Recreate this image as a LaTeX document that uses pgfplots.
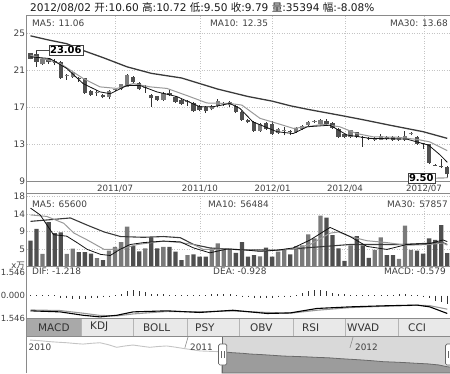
\documentclass[border=0pt]{standalone}
\usepackage{fontspec}
\setmainfont{DejaVu Sans}
\newfontfamily\cjk{Noto Sans CJK SC}
\usepackage{pgfplots}
\pgfplotsset{compat=1.18}
\usepackage{pgfplotstable}
\newcommand\fs[1]{\fontsize{#1}{#1}\selectfont}
\definecolor{axisgray}{HTML}{8A8A8A}
\definecolor{gridgray}{HTML}{C4C4C4}
\definecolor{textgray}{HTML}{404040}
\definecolor{bodydown}{HTML}{505050}
\definecolor{bodyup}{HTML}{7D7D7D}
\definecolor{wickc}{HTML}{303030}
\definecolor{voldown}{HTML}{4F4F4F}
\definecolor{volup}{HTML}{7A7A7A}
\definecolor{maA}{HTML}{111111}
\definecolor{maB}{HTML}{999999}
\definecolor{maC}{HTML}{3A3A3A}
\definecolor{tabbg}{HTML}{E9E9E9}
\definecolor{tabsel}{HTML}{A9A9A9}
\definecolor{tabline}{HTML}{B5B5B5}
\definecolor{navsel}{HTML}{D9D9D9}
\definecolor{navarea}{HTML}{9C9C9C}
\definecolor{navline}{HTML}{6A6A6A}
\definecolor{navlight}{HTML}{C4C4C4}

\pgfplotstableread{
i o h l c
2 21.7 22.4 21.6 22.3
6 20.45 20.6 20.0 20.55
7 20.3 20.9 20.2 20.85
11 18.55 18.9 18.3 18.65
13 18.1 18.9 17.9 18.8
14 18.85 19.1 18.75 19.0
15 19.0 19.6 18.9 19.5
16 19.25 20.6 19.2 20.5
19 19.15 19.4 18.6 19.25
22 17.8 18.7 17.7 18.6
26 17.6 17.8 17.2 17.75
30 16.8 17.3 16.7 17.2
31 17.2 17.9 17.1 17.7
32 17.35 17.6 17.2 17.45
33 17.25 17.7 17.1 17.6
38 14.5 15.3 14.4 15.2
41 14.3 14.8 14.2 14.7
42 14.45 14.9 14.0 14.55
44 14.35 14.9 14.3 14.8
45 14.7 15.1 14.6 15.0
46 15.1 15.6 15.0 15.5
47 15.45 15.7 15.3 15.55
48 15.2 15.8 15.1 15.7
53 13.8 14.6 13.7 14.55
57 13.55 13.8 13.4 13.65
58 13.55 14.1 13.5 13.95
61 13.45 13.9 13.4 13.8
62 13.45 14.5 13.4 13.95
63 14.15 14.35 14.0 14.25
}\candlesUp

\pgfplotstableread{
i o h l c
0 22.85 22.9 22.2 22.3
1 22.75 23.06 21.4 21.9
3 22.2 22.3 21.7 21.9
4 22.0 22.2 21.6 21.8
5 21.9 22.0 20.1 20.15
8 20.2 20.3 19.8 20.1
9 20.15 20.2 18.5 18.55
10 18.8 18.9 18.3 18.35
12 18.4 18.5 18.0 18.1
17 20.3 20.4 19.7 19.8
18 19.7 19.8 18.9 19.0
20 18.4 18.5 17.1 18.0
21 18.2 18.3 17.7 17.8
23 18.6 18.85 18.3 18.35
24 18.1 18.2 17.5 17.6
25 17.8 17.9 17.3 17.4
27 17.5 17.6 16.5 16.6
28 17.2 17.3 16.6 16.7
29 17.1 17.2 16.4 16.6
34 17.2 17.3 16.4 16.5
35 16.5 16.6 15.6 15.65
36 15.7 15.8 15.3 15.4
37 15.5 15.6 14.4 14.5
39 15.35 15.5 14.6 14.65
40 15.25 15.6 14.0 14.1
43 14.45 14.6 14.0 14.35
49 15.55 15.8 15.1 15.2
50 15.35 15.4 14.7 14.8
51 14.7 14.8 13.7 13.8
52 14.1 14.2 13.7 13.8
54 14.35 14.4 13.7 13.8
55 13.85 13.9 12.8 13.75
56 13.75 13.8 13.5 13.65
59 13.85 13.9 13.5 13.6
60 13.85 13.9 13.4 13.45
64 13.8 13.9 13.0 13.1
65 13.15 13.2 12.5 13.05
66 13.05 13.1 10.9 11.0
67 10.85 10.9 10.7 10.75
68 10.7 11.4 10.5 10.6
69 10.60 10.72 9.50 9.79
}\candlesDown

\pgfplotstableread{
i v
2 3.3
6 3.3
7 4.7
11 2.2
13 4.2
14 5.2
15 6.4
16 10.5
19 4.8
22 5.2
26 3.0
30 4.8
31 6.1
32 4.8
33 4.7
38 2.7
41 3.9
42 4.5
44 5.4
45 5.6
46 8.5
47 7.4
48 13.4
53 5.6
57 4.4
58 7.7
61 2.0
62 10.8
63 4.4
}\volUp

\pgfplotstableread{
i v
0 6.8
1 9.9
3 11.7
4 8.8
5 9.0
8 3.8
9 3.8
10 3.4
12 1.7
17 5.4
18 4.0
20 7.7
21 4.8
23 5.2
24 3.9
25 1.7
27 3.2
28 2.6
29 2.6
34 3.6
35 6.4
36 2.6
37 3.0
39 5.0
40 2.6
43 3.2
49 12.9
50 8.3
51 4.8
52 1.5
54 8.0
55 5.6
56 2.3
59 3.0
60 3.0
64 4.2
65 3.4
66 7.4
67 7.0
68 10.9
69 3.54
}\volDown

\pgfplotstableread{
i m
0 0.04
1 0.05
2 0.05
3 0.04
4 0.03
5 -0.15
6 -0.2
7 -0.22
8 -0.25
9 -0.22
10 -0.2
11 -0.18
12 -0.12
13 -0.08
14 0.05
15 0.1
16 0.3
17 0.35
18 0.3
19 0.25
20 0.12
21 0.1
22 0.08
23 0.06
24 0.05
25 0.04
26 0.05
27 0.06
28 0.05
29 0.06
30 0.1
31 0.12
32 0.1
33 0.08
34 0.04
35 -0.05
36 -0.12
37 -0.18
38 -0.2
39 -0.18
40 -0.15
41 -0.12
42 -0.08
43 -0.05
44 0.05
45 0.2
46 0.3
47 0.38
48 0.4
49 0.32
50 0.2
51 0.1
52 0.08
53 0.06
54 0.05
55 0.05
56 0.06
57 0.06
58 0.05
59 0.05
60 0.06
61 0.08
62 0.1
63 0.06
64 0.02
65 -0.08
66 -0.2
67 -0.35
68 -0.45
69 -0.579
}\macdHist

\begin{document}
\begin{tikzpicture}[x=1bp,y=1bp]
\path[use as bounding box] (0,0) rectangle (450,373);

% header
\node[anchor=west, inner sep=0pt, font=\fs{10.6}, text=black!90] at (30,365.3)
 {2012/08/02 {\cjk 开}:10.60 {\cjk 高}:10.72 {\cjk 低}:9.50 {\cjk 收}:9.79 {\cjk 量}:35394 {\cjk 幅}:-8.08\%};

% ---------------- main price panel
\begin{axis}[
 at={(26.7bp,191.3bp)}, anchor=south west, scale only axis,
 width=424.3bp, height=166.7bp,
 xmin=-0.63, xmax=69.62, ymin=9, ymax=27,
 axis line style={draw=axisgray, line width=0.8bp},
 xtick={14.0,28.06,40.1,52.07,65.15},
 xticklabels={2011/07,2011/10,2012/01,2012/04,2012/07},
 ytick={9,13,17,21,25}, yticklabels={9,13,17,21,25},
 major tick length=0pt,
 grid=major, grid style={draw=gridgray, dash pattern=on 1bp off 1.5bp, line width=0.6bp},
 xticklabel style={font=\fs{8.7}, text=textgray, anchor=center, yshift=-7bp, inner sep=0pt},
 yticklabel style={font=\fs{9}, text=textgray, inner sep=1.5bp},
 clip=false,
]
\addplot[forget plot, draw=none, mark=none,
  error bars/.cd, y dir=plus, y explicit, error mark=none,
  error bar style={line width=1bp, draw=wickc}]
  table[x=i, y=l, y error plus expr=\thisrow{h}-\thisrow{l}] {\candlesUp};
\addplot[forget plot, draw=none, mark=none,
  error bars/.cd, y dir=plus, y explicit, error mark=none,
  error bar style={line width=1bp, draw=wickc}]
  table[x=i, y=l, y error plus expr=\thisrow{h}-\thisrow{l}] {\candlesDown};
\addplot[forget plot, draw=none, mark=none,
  error bars/.cd, y dir=plus, y explicit, error mark=none,
  error bar style={line width=4.3bp, draw=bodyup, line cap=butt}]
  table[x=i, y=o, y error plus expr=\thisrow{c}-\thisrow{o}] {\candlesUp};
\addplot[forget plot, draw=none, mark=none,
  error bars/.cd, y dir=plus, y explicit, error mark=none,
  error bar style={line width=4.3bp, draw=bodydown, line cap=butt}]
  table[x=i, y=c, y error plus expr=\thisrow{o}-\thisrow{c}] {\candlesDown};
% MA30
\addplot[maC, line width=1.3bp, mark=none] coordinates {
(0,24.75) (3,24.3) (6,23.9) (9,23.1) (12,22.4) (16,21.4) (20,20.7) (25,20.2) (28,19.6) (31,19.0) (36,18.2) (40,17.7) (43,17.2) (46,16.8) (51,16.2) (55,15.7) (59.5,15.1) (65,14.4) (69,13.68)};
% MA10
\addplot[maB, line width=1bp, mark=none] coordinates {
(0,22.66) (4.9,21.77) (8.7,20.15) (11.5,19.24) (14.3,19.07) (17,19.6) (19.8,19.24) (22.6,19.07) (25.9,18.3) (29.2,17.5) (33,17.45) (35,17.27) (38,15.84) (40.8,15.3) (43.5,14.76) (45.8,14.93) (48.4,15.2) (51.2,14.93) (54,14.2) (56.7,13.85) (60.7,13.8) (64,13.57) (66.1,13.3) (69,12.35)};
% MA5
\addplot[maA, line width=0.8bp, mark=none] coordinates {
(0,22.48) (3.2,22.3) (6,21.23) (8.7,19.6) (11.5,18.7) (13.2,18.5) (16,19.4) (18.1,19.4) (20.9,18.7) (24.2,18.2) (28,17.1) (30.3,17.1) (33,17.45) (34.7,16.9) (36.8,15.47) (40.8,14.4) (43.5,14.2) (45.8,14.93) (49.6,15.1) (52.4,14.04) (56.2,13.68) (62.3,13.6) (65.9,12.95) (67.8,11.9) (69,11.1)};
% annotations
\node[draw=black!75, fill=white, inner sep=1.2bp, font=\bfseries\fs{10}] (hi) at (axis cs:5.85,23.2) {23.06};
\draw[black!70, line width=0.6bp] (hi.west) -- (axis cs:1,23.2) -- (axis cs:1,23.06);
\node[draw=black!75, fill=white, inner sep=1.2bp, font=\bfseries\fs{10}] (lo) at (axis cs:64.7,9.39) {9.50};
\draw[black!70, line width=0.6bp] (lo.east) -- (axis cs:69,9.41) -- (axis cs:69,9.5);
\end{axis}

% ---------------- volume panel
\begin{axis}[
 at={(26.7bp,106.5bp)}, anchor=south west, scale only axis,
 width=424.3bp, height=73.2bp,
 xmin=-0.63, xmax=69.62, ymin=0, ymax=19.3,
 axis line style={draw=axisgray, line width=0.8bp},
 xtick={14.0,28.06,40.1,52.07,65.15}, xticklabels={},
 ytick={4.6,9.2,13.8,18.4}, yticklabels={5,9,14,18},
 major tick length=0pt,
 grid=major, grid style={draw=gridgray, dash pattern=on 1bp off 1.5bp, line width=0.6bp},
 yticklabel style={font=\fs{9}, text=textgray, inner sep=1.5bp},
]
\addplot[ybar, bar width=4.3bp, bar shift=0pt, fill=volup, draw=none] table[x=i,y=v] {\volUp};
\addplot[ybar, bar width=4.3bp, bar shift=0pt, fill=voldown, draw=none] table[x=i,y=v] {\volDown};
\addplot[maC, line width=1.1bp, mark=none] coordinates {
(0,11.9) (6.6,12.8) (9.4,10.9) (12.2,9.1) (14.9,7.9) (18.7,7.7) (22,7.9) (24.8,7.6) (27,5.8) (29.7,4.9) (32.5,4.6) (35.2,4.4) (40.8,4.3) (45.5,4.9) (52.9,5.8) (61.2,5.8) (68.3,6.3) (69,5.79)};
\addplot[maB, line width=1bp, mark=none] coordinates {
(0,13.6) (2.7,13.2) (5.5,11.4) (7.2,8.8) (9.4,7.0) (12.2,4.5) (14.9,4.6) (17.7,5.8) (22,6.7) (24.8,6.3) (27,5.8) (28.6,4.5) (32.5,4.6) (35.2,4.4) (38,4.1) (40.8,4.3) (43.5,4.6) (46.3,5.8) (49.6,8.8) (51,9.1) (52.9,7.9) (55.7,6.8) (59,6.3) (62.3,5.6) (66,5.8) (68.3,6.2) (69,5.65)};
\addplot[maA, line width=0.8bp, mark=none] coordinates {
(0,15.4) (1.6,13.6) (3.8,8.4) (6,8.0) (7.7,6.3) (9.4,4.5) (11.6,3.2) (13.2,2.9) (14.8,4.5) (16.5,5.8) (18.7,6.3) (22,6.7) (24.8,6.5) (27,4.9) (29.7,3.6) (32.5,4.6) (35.2,4.4) (38,4.0) (40.8,4.3) (43.5,4.9) (46.3,7.0) (49.6,10.3) (52.9,7.9) (55.7,5.3) (59,4.5) (62.3,5.8) (66,6.0) (68.3,7.0) (69,6.56)};
\end{axis}

% ---------------- MACD panel
\begin{axis}[
 at={(26.7bp,54.7bp)}, anchor=south west, scale only axis,
 width=424.3bp, height=51.8bp,
 xmin=-0.63, xmax=69.62, ymin=-1.546, ymax=1.966,
 axis line style={draw=axisgray, line width=0.8bp},
 xtick=\empty,
 ytick={-1.546,0,1.546}, yticklabels={1.546,0.000,1.546},
 major tick length=0pt,
 yticklabel style={font=\fs{8.5}, text=textgray, inner sep=1.5bp},
]
\addplot[ycomb, black!80, line width=0.6bp, mark=none] table[x=i,y=m] {\macdHist};
\addplot[maB, line width=1.1bp, mark=none] coordinates {
(0,-0.98) (4.9,-1.02) (8.7,-1.2) (11.5,-1.35) (14.3,-1.38) (17,-1.25) (22.6,-1.08) (28,-1.1) (33.5,-1.05) (39.2,-1.15) (43,-1.2) (47.4,-1.0) (52.9,-0.82) (58.4,-0.73) (64,-0.66) (66.1,-0.69) (69,-0.928)};
\addplot[black, line width=1.1bp, mark=none] coordinates {
(0,-1.04) (4.9,-1.11) (8.7,-1.34) (11.5,-1.45) (14.3,-1.34) (17,-1.11) (22.6,-1.04) (28,-1.15) (33.5,-1.0) (39.2,-1.22) (43,-1.18) (47.4,-0.88) (52.9,-0.77) (58.4,-0.70) (64,-0.65) (66.1,-0.77) (69,-1.218)};
\end{axis}

% ---------------- navigator
\begin{axis}[
 at={(26.7bp,0bp)}, anchor=south west, scale only axis,
 width=424.3bp, height=37bp,
 xmin=0.25, xmax=31.1, ymin=5.5, ymax=33,
 axis lines=none, ticks=none,
]
\fill[navsel] (axis cs:14.45,5.5) rectangle (axis cs:31.1,33);
\addplot[fill=navarea, draw=navline, line width=0.8bp, mark=none] coordinates {
(14.45,21.3) (15.2,20.6) (16.0,20.1) (16.5,19.6) (17.3,19.2) (18.2,18.6) (18.9,18.1) (19.8,17.8) (20.6,17.5) (21.4,17.1) (22.2,16.8) (23.0,16.2) (23.8,15.7) (24.6,15.2) (25.4,14.6) (26.2,13.9) (27.0,13.6) (27.8,13.2) (28.6,12.7) (29.4,12.3) (30.2,11.5) (30.8,10.2) (31.1,9.8)} \closedcycle;
\addplot[navlight, line width=0.9bp, mark=none] coordinates {
(0.49,30.0) (1.2,29.5) (1.94,28.8) (2.5,28.4) (3.16,28.0) (3.8,27.4) (4.34,27.0) (5.0,27.6) (5.58,28.0) (6.2,26.5) (6.79,24.6) (7.4,25.6) (7.98,26.3) (8.6,25.4) (9.2,24.6) (9.8,25.2) (10.43,25.6) (11.0,24.8) (11.61,23.8) (12.2,22.9) (12.85,21.9) (13.6,21.6) (14.43,21.3)};
\draw[axisgray, line width=0.6bp] (axis cs:12,33) -- ++(0,-4.5bp);
\draw[axisgray, line width=0.6bp] (axis cs:24,33) -- ++(0,-4.5bp);
\end{axis}

% navigator labels and handles
\node[anchor=west, inner sep=0pt, font=\fs{8.9}, text=textgray] at (28.5,26) {2010};
\node[anchor=west, inner sep=0pt, font=\fs{8.9}, text=textgray] at (190,26) {2011};
\node[anchor=west, inner sep=0pt, font=\fs{8.9}, text=textgray] at (355,26) {2012};
\draw[navline, line width=0.8bp] (222.5,0) -- (222.5,37);
\draw[black!60, fill=white, rounded corners=1.5bp, line width=0.7bp] (218.5,8) rectangle (226.8,29);
\draw[black!60, line width=0.6bp] (221.4,15) -- (221.4,22) (223.9,15) -- (223.9,22);
\draw[black!60, fill=white, rounded corners=1.5bp, line width=0.7bp] (445.5,8) rectangle (453.8,29);
\draw[black!60, line width=0.6bp] (448.4,15) -- (448.4,22);

% tabs
\fill[tabbg] (26.7,37) rectangle (451,54.7);
\fill[tabsel] (26.7,37) rectangle (81,54.7);
\foreach \x in {81,133,187,239,293,345,398} \draw[tabline, line width=0.8bp] (\x,37) -- (\x,54.7);
\draw[axisgray, line width=0.7bp] (26.7,37) -- (451,37);
\draw[axisgray, line width=0.7bp] (26.7,54.7) -- (451,54.7);
\foreach \x/\t in {38/MACD,90/KDJ,143/BOLL,195/PSY,250/OBV,302/RSI,347/WVAD,408/CCI}
  \node[anchor=west, inner sep=0pt, font=\fs{10.5}, text=black!80] at (\x,45.8) {\t};

% frame left line
\draw[axisgray, line width=0.8bp] (26.7,0) -- (26.7,358);

% panel labels
\node[anchor=west, inner sep=0pt, font=\fs{9}, text=textgray] at (32,349.5) {MA5: 11.06};
\node[anchor=west, inner sep=0pt, font=\fs{9}, text=textgray] at (210,349.5) {MA10: 12.35};
\node[anchor=east, inner sep=0pt, font=\fs{9}, text=textgray] at (448,349.5) {MA30: 13.68};
\node[anchor=west, inner sep=0pt, font=\fs{9}, text=textgray] at (32,168.5) {MA5: 65600};
\node[anchor=west, inner sep=0pt, font=\fs{9}, text=textgray] at (208,168.5) {MA10: 56484};
\node[anchor=east, inner sep=0pt, font=\fs{9}, text=textgray] at (448,168.5) {MA30: 57857};
\node[anchor=west, inner sep=0pt, font=\fs{9}, text=textgray] at (32,101.5) {DIF: -1.218};
\node[anchor=west, inner sep=0pt, font=\fs{9}, text=textgray] at (213,101.5) {DEA: -0.928};
\node[anchor=east, inner sep=0pt, font=\fs{9}, text=textgray] at (446,101.5) {MACD: -0.579};
\node[anchor=east, inner sep=0pt, font=\fs{8.5}, text=textgray] at (25,107.5) {x{\cjk 万}};
\end{tikzpicture}
\end{document}
